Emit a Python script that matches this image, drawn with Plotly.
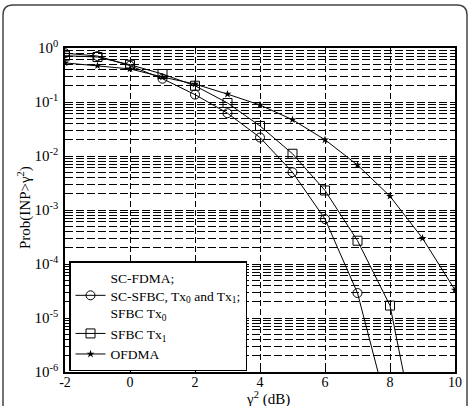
import plotly.graph_objects as go

x_db = [-2, -1, 0, 1, 2, 3, 4, 5, 6, 7, 8, 9, 10]
sc_fdma = [0.80, 0.71, 0.47, 0.27, 0.137, 0.062, 0.022, 0.005, 6.8e-4, 2.9e-5, 1.4e-7, None, None]
sfbc_tx1 = [0.72, 0.68, 0.49, 0.33, 0.20, 0.096, 0.036, 0.011, 2.3e-3, 2.7e-4, 1.7e-5, 1.7e-8, None]
ofdma = [0.53, 0.47, 0.41, 0.29, 0.215, 0.14, 0.088, 0.047, 0.020, 6.8e-3, 1.8e-3, 3.0e-4, 3.3e-5]

x_ticks = [-2, 0, 2, 4, 6, 8, 10]
y_exps = [0, -1, -2, -3, -4, -5, -6]

names = ["SC-FDMA;<br>SC-SFBC, Tx<sub>0</sub> and Tx<sub>1</sub>;<br>SFBC Tx<sub>0</sub>",
         "SFBC Tx<sub>1</sub>", "OFDMA"]
x_title = "γ<sup>2</sup> (dB)"
y_title = "Prob(INP>γ<sup>2</sup>)"

W, H = 471, 406
L, R, T, B = 65, 16, 48, 34
FONT = "Liberation Serif"

def px(xp):
    return (xp - L) / (W - L - R)

def py(yp):
    return (H - B - yp) / (H - T - B)

fig = go.Figure()
fig.add_trace(go.Scatter(x=x_db, y=sc_fdma, name=names[0], mode="lines+markers", legendgroup="a",
                         line=dict(color="black", width=1),
                         marker=dict(symbol="circle-open", size=9, color="black", line=dict(width=1))))
fig.add_trace(go.Scatter(x=x_db, y=sfbc_tx1, name=names[1], mode="lines+markers", legendgroup="b",
                         line=dict(color="black", width=1),
                         marker=dict(symbol="square-open", size=9, color="black", line=dict(width=1))))
fig.add_trace(go.Scatter(x=x_db, y=ofdma, name=names[2], mode="lines+markers", legendgroup="c",
                         line=dict(color="black", width=1),
                         marker=dict(symbol="star", size=6, color="black", line=dict(width=0))))

grid_dash = "8px,3px"
fig.update_xaxes(range=[-2, 10], tickvals=x_ticks, ticktext=[str(v) for v in x_ticks],
                 ticks="inside", ticklen=5, tickcolor="black", mirror="ticks",
                 showline=True, linecolor="black", linewidth=1.5,
                 showgrid=True, gridcolor="black", gridwidth=1, griddash="6px,3px",
                 zeroline=False, automargin=False, ticklabelstandoff=-4,
                 tickfont=dict(family=FONT, size=14, color="black"))
fig.update_yaxes(type="log", range=[-6, 0],
                 tickvals=[10 ** e for e in y_exps],
                 ticktext=["10<sup>%d</sup>" % e for e in y_exps],
                 ticks="inside", ticklen=5, tickcolor="black", mirror="ticks",
                 showline=True, linecolor="black", linewidth=1.5,
                 showgrid=True, gridcolor="black", gridwidth=1, griddash=grid_dash,
                 minor=dict(dtick="D1", ticks="inside", ticklen=3, tickcolor="black",
                            showgrid=True, gridcolor="black", gridwidth=1, griddash=grid_dash),
                 zeroline=False, automargin=False, ticklabelstandoff=2,
                 tickfont=dict(family=FONT, size=15, color="black"))

fig.add_annotation(text=x_title, xref="paper", yref="paper", x=px(268), y=py(398),
                   xanchor="center", yanchor="middle", showarrow=False,
                   font=dict(family=FONT, size=15, color="black"))
fig.add_annotation(text=y_title, xref="paper", yref="paper", x=px(24), y=py(208),
                   xanchor="center", yanchor="middle", showarrow=False, textangle=-90,
                   font=dict(family=FONT, size=15, color="black"))

fig.update_layout(
    width=W, height=H,
    margin=dict(l=L, r=R, t=T, b=B),
    paper_bgcolor="white", plot_bgcolor="white",
    font=dict(family=FONT, size=14, color="black"),
    showlegend=True,
    legend=dict(x=px(69), y=py(261), xanchor="left", yanchor="top",
                bgcolor="white", bordercolor="black", borderwidth=1.5,
                font=dict(family=FONT, size=13.5, color="black"),
                tracegroupgap=0, itemwidth=30),
)

# rounded outer frame of the figure
x0, x1, y0, y1, r = 3, 467, 5, 420, 10
path = (f"M {px(x0 + r)},{py(y0)} L {px(x1 - r)},{py(y0)} "
        f"Q {px(x1)},{py(y0)} {px(x1)},{py(y1)} "
        f"L {px(x1)},{py(y1)} L {px(x0)},{py(y1)} L {px(x0)},{py(y0 + r)} "
        f"Q {px(x0)},{py(y0)} {px(x0 + r)},{py(y0)} Z") if False else (
        f"M {px(x0 + r)},{py(y0)} L {px(x1 - r)},{py(y0)} "
        f"Q {px(x1)},{py(y0)} {px(x1)},{py(y0 + r)} L {px(x1)},{py(y1)} "
        f"L {px(x0)},{py(y1)} L {px(x0)},{py(y0 + r)} "
        f"Q {px(x0)},{py(y0)} {px(x0 + r)},{py(y0)} Z")
fig.add_shape(type="path", path=path, xref="paper", yref="paper",
              line=dict(color="#444444", width=1.5), layer="below")

fig.write_html("out.html")
